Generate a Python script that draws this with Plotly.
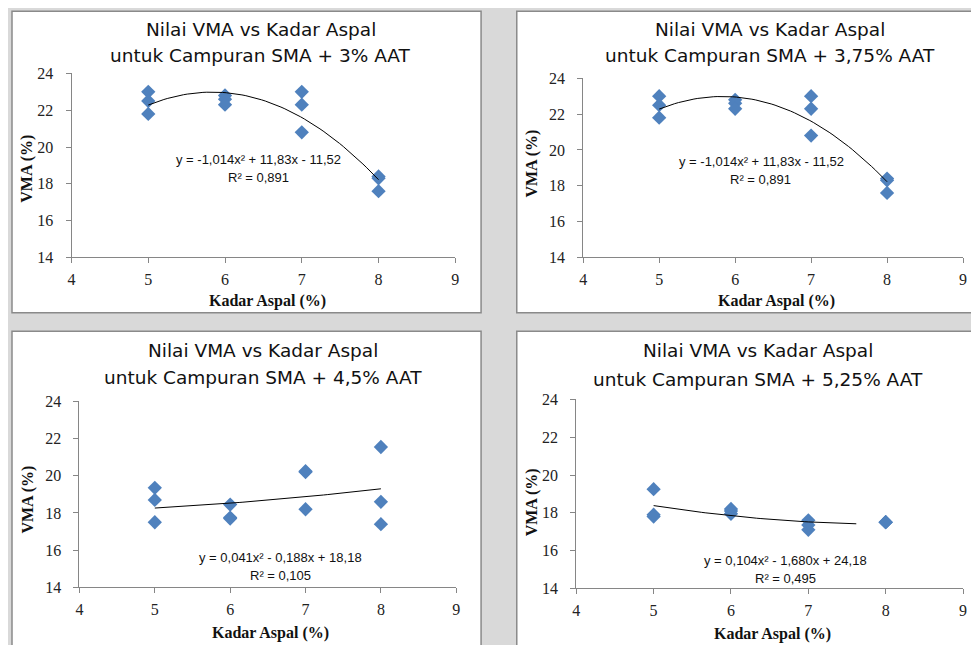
import plotly.graph_objects as go
import numpy as np

# ---------- data ----------
kadar = [5, 5, 5, 6, 6, 6, 7, 7, 7, 8, 8, 8]
vma_300 = [23.0, 22.5, 21.8, 22.8, 22.6, 22.3, 23.0, 22.3, 20.8, 18.4, 18.3, 17.6]
vma_375 = [23.0, 22.5, 21.8, 22.8, 22.6, 22.3, 23.0, 22.3, 20.8, 18.4, 18.3, 17.6]
vma_450 = [19.35, 18.7, 17.5, 18.45, 17.75, 17.7, 20.25, 20.2, 18.2, 21.55, 18.6, 17.4]
vma_525 = [19.25, 17.9, 17.8, 18.2, 18.1, 17.95, 17.6, 17.35, 17.1, 17.5, 17.5, 17.5]

title_line1 = ["Nilai VMA vs Kadar Aspal"] * 4
title_line2 = [
    "untuk Campuran SMA + 3% AAT",
    "untuk Campuran SMA + 3,75% AAT",
    "untuk Campuran SMA + 4,5% AAT",
    "untuk Campuran SMA + 5,25% AAT",
]
# polynomial trendline coefficients (a, b, c) for y = a x^2 + b x + c
coef_300 = [-1.014, 11.83, -11.52]
coef_375 = [-1.014, 11.83, -11.52]
coef_450 = [0.041, -0.188, 18.18]
coef_525 = [0.104, -1.680, 24.18]
trend_range = [[5, 8], [5, 8], [5, 8], [5, 7.62]]
eq_line = [
    "y = -1,014x² + 11,83x - 11,52",
    "y = -1,014x² + 11,83x - 11,52",
    "y = 0,041x² - 0,188x + 18,18",
    "y = 0,104x² - 1,680x + 24,18",
]
r2_line = ["R² = 0,891", "R² = 0,891", "R² = 0,105", "R² = 0,495"]
x_ticks = [4, 5, 6, 7, 8, 9]
y_ticks = [14, 16, 18, 20, 22, 24]

# page body has an 8px margin: figure is sized to fit the window
OFF = 8
W, H = 979 - 2 * OFF, 653 - 2 * OFF
series = [vma_300, vma_375, vma_450, vma_525]
coefs = [coef_300, coef_375, coef_450, coef_525]

# ---------- layout geometry (window pixels) ----------
plot_px = [  # x0, x1, ytop, ybottom
    (68, 455, 67, 256),
    (584, 967, 72, 256),
    (76, 456, 404, 595),
    (577, 967, 402, 596),
]
box_px = [(8, 481, 3, 313), (517, 1000, 3, 313), (8, 481, 332, 680), (517, 1000, 332, 680)]
title1_px = [(259, 22), (772, 22), (261, 352), (760, 352)]
title2_px = [(259, 49), (772, 49), (261, 379), (760, 381)]
eq_px = [(257, 155), (764, 157), (279, 564), (788, 567)]
r2_px = [(257, 174), (763, 176), (279, 583), (788, 586)]
ytitle_px = [(23, 165), (532, 160), (24, 505), (532, 508)]
xtitle_px = [(266, 301), (779, 301), (269, 642), (775, 643)]

fig = go.Figure()
layout = dict(
    width=W, height=H, margin=dict(l=0, r=0, t=0, b=0),
    paper_bgcolor="#d9d9d9", plot_bgcolor="rgba(0,0,0,0)", showlegend=False,
)
shapes = []
annotations = []


def px2x(p):
    return (p - OFF) / W


def px2y(p):
    return 1 - (p - OFF) / H


def label(text, pos, size, family, angle=0, color="#111"):
    annotations.append(dict(text=text, x=px2x(pos[0]), y=px2y(pos[1]), xref="paper", yref="paper",
                            showarrow=False, xanchor="center", yanchor="middle", textangle=angle,
                            font=dict(family=family, size=size, color=color)))


for i in range(4):
    n = "" if i == 0 else str(i + 1)
    x0, x1, yt, yb = plot_px[i]
    ax_common = dict(showgrid=False, zeroline=False, showline=True, linecolor="#868686",
                     linewidth=1, ticks="outside", ticklen=5, tickcolor="#868686",
                     tickfont=dict(family="Liberation Serif", size=16, color="#222"))
    layout["xaxis" + n] = dict(domain=[px2x(x0), px2x(x1)], anchor="y" + n, range=[4, 9],
                               tickvals=x_ticks, ticklabelstandoff=2, **ax_common)
    layout["yaxis" + n] = dict(domain=[px2y(yb), px2y(yt)], anchor="x" + n, range=[14, 24],
                               tickvals=y_ticks, ticklabelstandoff=9, **ax_common)
    bx0, bx1, by0, by1 = box_px[i]
    shapes.append(dict(type="rect", xref="paper", yref="paper",
                       x0=px2x(bx0), x1=px2x(bx1), y0=px2y(by1), y1=px2y(by0),
                       fillcolor="white", line=dict(color="#8a8a8a", width=1.5), layer="below"))
    fig.add_trace(go.Scatter(
        x=kadar, y=series[i], mode="markers", xaxis="x" + n, yaxis="y" + n,
        marker=dict(symbol="diamond", size=11, color="#4F81BD"),
    ))
    a, b, c = coefs[i]
    xs = np.linspace(trend_range[i][0], trend_range[i][1], 60)
    fig.add_trace(go.Scatter(
        x=xs, y=a * xs ** 2 + b * xs + c, mode="lines", xaxis="x" + n, yaxis="y" + n,
        line=dict(color="black", width=1),
    ))
    label(title_line1[i], title1_px[i], 18.5, "DejaVu Sans")
    label(title_line2[i], title2_px[i], 18.5, "DejaVu Sans")
    label(eq_line[i], eq_px[i], 13, "Liberation Sans")
    label(r2_line[i], r2_px[i], 13, "Liberation Sans")
    label("<b>VMA (%)</b>", ytitle_px[i], 16, "Liberation Serif", angle=-90)
    label("<b>Kadar Aspal (%)</b>", xtitle_px[i], 16, "Liberation Serif")

layout["shapes"] = shapes
layout["annotations"] = annotations
fig.update_layout(**layout)
fig.write_html("out.html")
